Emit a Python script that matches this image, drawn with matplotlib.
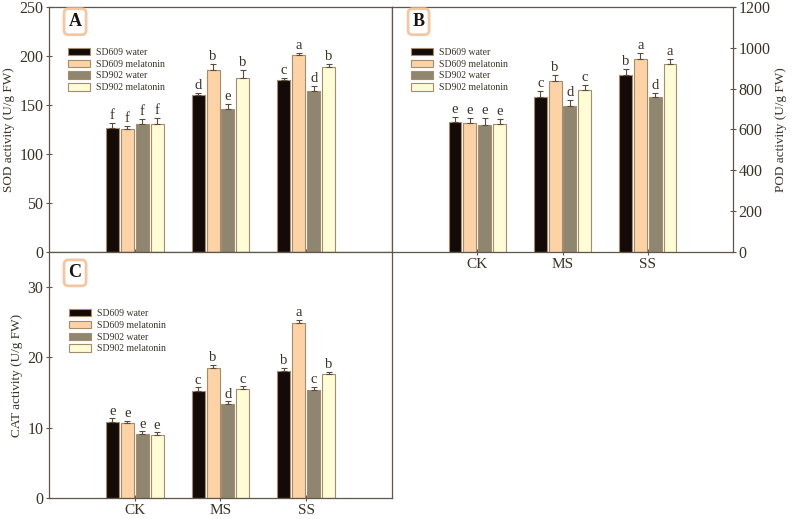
import matplotlib
matplotlib.use('Agg')
import matplotlib.pyplot as plt
import numpy as np

plt.rcParams['font.family'] = ['Liberation Serif', 'DejaVu Serif']

# groups and series
groups = ['CK', 'MS', 'SS']
series = ['SD609 water', 'SD609 melatonin', 'SD902 water', 'SD902 melatonin']

# SOD activity (U/g FW), one row per series
sod = [[127, 160, 175], [125.5, 186, 201], [131, 146, 164], [131, 177.5, 189]]
sod_err = [[5, 2, 2.5], [3, 6, 2.5], [5, 5, 5], [6, 8, 3]]
sod_let = [['f', 'd', 'c'], ['f', 'b', 'a'], ['f', 'e', 'd'], ['f', 'b', 'b']]

# POD activity (U/g FW)
pod = [[635, 760, 868], [632, 839, 945], [624, 715, 757], [627, 793, 920]]
pod_err = [[28, 30, 28], [25, 30, 32], [32, 30, 23], [25, 26, 26]]
pod_let = [['e', 'c', 'b'], ['e', 'b', 'a'], ['e', 'd', 'd'], ['e', 'c', 'a']]

# CAT activity (U/g FW)
cat = [[10.83, 15.26, 18.04], [10.6, 18.5, 24.96], [9.09, 13.3, 15.4], [8.95, 15.5, 17.66]]
cat_err = [[0.5, 0.5, 0.5], [0.35, 0.4, 0.4], [0.4, 0.45, 0.4], [0.4, 0.4, 0.3]]
cat_let = [['e', 'c', 'b'], ['e', 'b', 'a'], ['e', 'd', 'c'], ['e', 'c', 'b']]

colors = ['#140a08', '#fdd3a6', '#8f8670', '#fffcd6']
edge = '#a48c6c'
spine_c = '#5f574a'
text_c = '#3a3226'

fig = plt.figure(figsize=(7.94, 5.19), dpi=100)
axA = fig.add_axes([0.0617, 0.5145, 0.432, 0.472])
axB = fig.add_axes([0.4937, 0.5145, 0.4295, 0.472])
axC = fig.add_axes([0.0617, 0.0405, 0.432, 0.474])


def draw_panel(ax, vals, errs, lets, ymax, ystep, label, letter, letter_y, yoff):
    x = np.arange(1, len(groups) + 1)
    width = 0.152
    step = 0.174
    for i, name in enumerate(series):
        pos = x + (i - 1.5) * step
        v = np.array(vals[i])
        e = np.array(errs[i])
        ax.bar(pos, v, width=width, color=colors[i], edgecolor=edge, linewidth=0.8,
               label=name, zorder=2)
        ax.errorbar(pos, v, yerr=[np.zeros_like(e), e], fmt='none', ecolor='#5a4c3c',
                    elinewidth=0.8, capsize=2.5, capthick=0.8, zorder=3)
        for p, h, l in zip(pos, v + e, lets[i]):
            ax.text(p, h + yoff, l, ha='center', va='bottom', fontsize=10.5, color=text_c)
    ax.set_xlim(0, 4)
    ax.set_ylim(0, ymax)
    ax.set_yticks(np.arange(0, ymax + 1e-9, ystep))
    ax.set_xticks(x)
    ax.set_ylabel(label, fontsize=9.5, color=text_c, labelpad=3)
    for s in ax.spines.values():
        s.set_color(spine_c)
        s.set_linewidth(0.9)
    ax.tick_params(direction='inout', length=4, width=0.8, color=spine_c,
                   labelsize=11.5, labelcolor=text_c, pad=2)
    ax.text(letter[1], letter_y, letter[0], transform=ax.transAxes, ha='center', va='center',
            fontsize=13, fontweight='bold', color='#1a1410',
            bbox=dict(boxstyle='round,pad=0.25', fc='white', ec='#f3c7a0', lw=2))


draw_panel(axA, sod, sod_err, sod_let, 250, 50, 'SOD activity (U/g FW)', ('A', 0.076), 0.94, 1)
draw_panel(axB, pod, pod_err, pod_let, 1200, 200, 'POD activity (U/g FW)', ('B', 0.078), 0.94, 5)
draw_panel(axC, cat, cat_err, cat_let, 35, 10, 'CAT activity (U/g FW)', ('C', 0.076), 0.915, 0.1)

axA.set_xticklabels([])
axB.yaxis.tick_right()
axB.yaxis.set_label_position('right')
axB.set_xticklabels(groups, fontsize=11)
axC.set_xticklabels(groups, fontsize=11)
axC.set_yticks([0, 10, 20, 30])

for ax, anchor in [(axA, (0.03, 0.87)), (axB, (0.03, 0.87)), (axC, (0.032, 0.805))]:
    leg = ax.legend(loc='upper left', bbox_to_anchor=anchor, fontsize=7, frameon=False,
                    handlelength=2.3, handleheight=0.75, labelspacing=0.3, handletextpad=0.6)
    for t in leg.get_texts():
        t.set_color(text_c)

fig.savefig('out.png', dpi=100)
